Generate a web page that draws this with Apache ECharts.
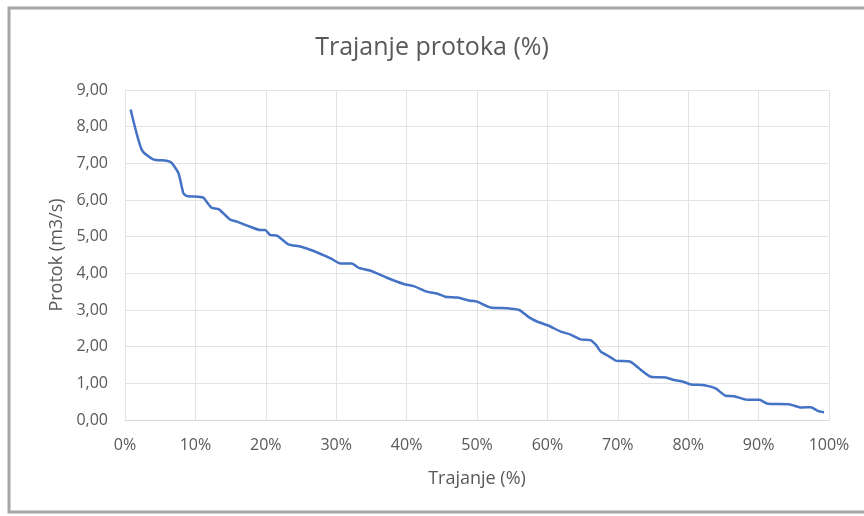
<!DOCTYPE html>
<html>
<head>
<meta charset="utf-8">
<script src="https://cdn.jsdelivr.net/npm/echarts@6/dist/echarts.min.js"></script>
<style>
html,body{margin:0;padding:0;background:#fff;}
#c{width:864px;height:516px;}
</style>
</head>
<body>
<div id="c"></div>
<script>
const titleText = "Trajanje protoka (%)";
const xAxisName = "Trajanje (%)";
const yAxisName = "Protok (m3/s)";
const durations = [0.8,2.4,4.0,5.9,6.6,7.6,8.3,8.8,11.1,11.6,12.3,13.3,14.9,15.9,17.8,19.2,19.9,20.6,21.6,23.2,24.9,26.8,29.2,30.6,32.2,33.2,34.9,37.2,39.6,41.0,42.9,44.3,45.5,47.2,49.1,50.0,51.9,54.3,56.0,57.4,58.6,60.2,61.9,63.3,64.7,66.1,66.9,67.6,68.8,69.7,71.8,73.0,74.7,76.8,78.0,79.2,80.4,82.3,83.9,85.3,86.5,88.4,90.1,91.3,94.3,96.0,97.4,98.4,99.3];
const flows = [8.47,7.36,7.11,7.07,7.02,6.73,6.18,6.11,6.07,5.95,5.79,5.75,5.47,5.41,5.27,5.18,5.18,5.05,5.03,4.79,4.73,4.61,4.41,4.27,4.27,4.15,4.07,3.88,3.71,3.65,3.50,3.45,3.36,3.34,3.25,3.23,3.07,3.05,3.00,2.80,2.68,2.57,2.41,2.33,2.20,2.18,2.05,1.86,1.73,1.62,1.59,1.41,1.18,1.16,1.09,1.05,0.97,0.95,0.86,0.66,0.65,0.55,0.55,0.44,0.43,0.34,0.35,0.25,0.21];

const seriesData = durations.map((d, i) => [d, flows[i]]);
const font = "'Open Sans', 'Noto Sans', sans-serif";
const txt = '#595959';

const chart = echarts.init(document.getElementById('c'), null, {renderer: 'canvas'});
chart.setOption({
  animation: false,
  backgroundColor: '#fff',
  title: {
    text: titleText,
    left: 'center',
    top: 30,
    textStyle: {fontFamily: font, fontSize: 25, fontWeight: 'normal', color: txt}
  },
  graphic: [{
    type: 'rect',
    shape: {x: 9, y: 8, width: 880, height: 504},
    style: {fill: 'none', stroke: '#a6a6a6', lineWidth: 3},
    silent: true
  }],
  grid: {left: 125, right: 35, top: 90, bottom: 96},
  xAxis: {
    type: 'value', min: 0, max: 100, interval: 10,
    name: xAxisName, nameLocation: 'middle', nameGap: 50,
    nameTextStyle: {fontFamily: font, fontSize: 18, color: txt},
    axisLine: {show: true, lineStyle: {color: '#d9d9d9'}},
    axisTick: {show: false},
    axisLabel: {fontFamily: font, fontSize: 16, color: txt, margin: 17, formatter: v => v + '%'},
    splitLine: {show: true, lineStyle: {color: '#e3e3e3'}}
  },
  yAxis: {
    type: 'value', min: 0, max: 9, interval: 1,
    name: yAxisName, nameLocation: 'middle', nameGap: 59, nameRotate: 90,
    nameTextStyle: {fontFamily: font, fontSize: 18, color: txt},
    axisLine: {show: false},
    axisTick: {show: false},
    axisLabel: {fontFamily: font, fontSize: 16, color: txt, margin: 17, formatter: v => v.toFixed(2).replace('.', ',')},
    splitLine: {show: true, lineStyle: {color: '#e3e3e3'}}
  },
  series: [{
    type: 'line',
    data: seriesData,
    showSymbol: false,
    smooth: 0.2,
    lineStyle: {color: '#4472c4', width: 2.5},
    itemStyle: {color: '#4472c4'}
  }]
});
</script>
</body>
</html>
